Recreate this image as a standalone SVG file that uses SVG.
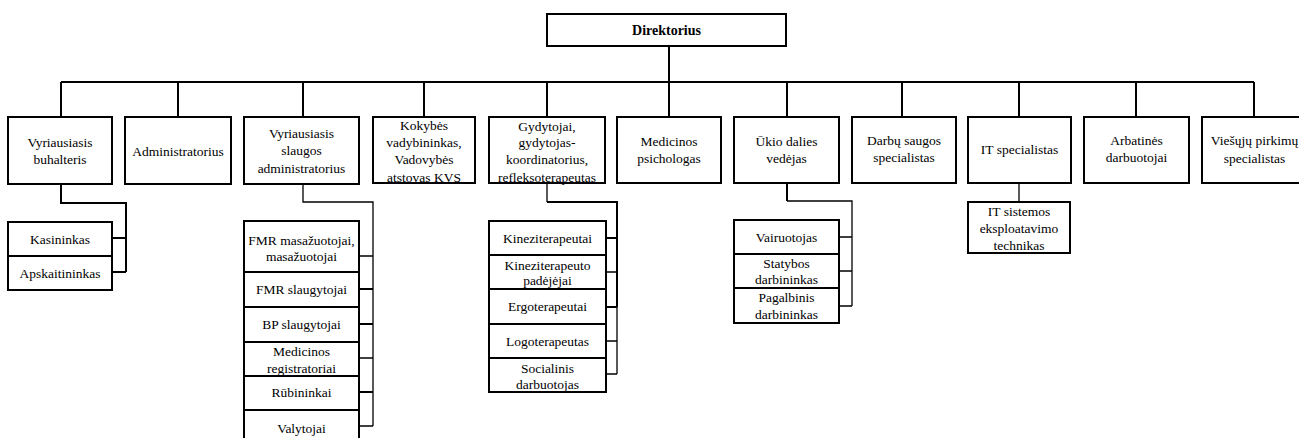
<svg xmlns="http://www.w3.org/2000/svg" width="1299" height="438" viewBox="0 0 1299 438">
<style>
.bg{fill:#fff}
.box{fill:#fff;stroke:#000;stroke-width:2}
.ln{fill:none;stroke:#000;stroke-width:2}
.tn{fill:none;stroke:#000;stroke-width:1.3}
text{font-family:"Liberation Serif","Times New Roman",serif;font-size:13.5px;fill:#000;text-anchor:middle;dominant-baseline:central}
.b{font-weight:bold;font-size:14px}
</style>
<rect class="bg" x="0" y="0" width="1299" height="438"/>
<g id="connectors">
<path class="ln" d="M669 46V82M61 82H1254"/>
<path class="ln" d="M61 82V117M178 82V117M303 82V117M424 82V117M547 82V117M669 82V117M787 82V117M902 82V117M1019 82V117M1136 82V117M1254 82V117"/>
<path class="ln" d="M61 184V203H126V272M112 238H126M112 272H126"/>
<path class="tn" d="M303 184V202H373V426M359 256H373M359 358H373M359 426H373"/>
<path class="ln" d="M359 289H373M359 324H373M359 392H373"/>
<path class="tn" d="M547 184V202M606 272H617M606 341H617M606 374H617M617 307V374"/>
<path class="ln" d="M547 202H617V307M606 238H617M606 307H617"/>
<path class="ln" d="M787 184V201"/>
<path class="tn" d="M787 201H852V306M839 237H852M839 271H852M839 306H852"/>
<path class="tn" d="M1019 184V202"/>
</g>
<g id="n-direktorius"><rect class="box" x="547" y="14" width="239" height="32"/><text class="b" x="666.5" y="30">Direktorius</text></g>
<g id="n-buhalteris"><rect class="box" x="8" y="117" width="104" height="67"/><text x="60" y="142">Vyriausiasis</text><text x="60" y="159">buhalteris</text></g>
<g id="n-administratorius"><rect class="box" x="125" y="117" width="106" height="67"/><text x="178" y="151">Administratorius</text></g>
<g id="n-slaugos"><rect class="box" x="244" y="117" width="115" height="67"/><text x="301.5" y="133">Vyriausiasis</text><text x="301.5" y="150.5">slaugos</text><text x="301.5" y="168">administratorius</text></g>
<g id="n-kokybes"><rect class="box" x="373" y="117" width="102" height="66"/><text x="424" y="125">Kokybės</text><text x="424" y="142">vadybininkas,</text><text x="424" y="159">Vadovybės</text><text x="424" y="177">atstovas KVS</text></g>
<g id="n-gydytojai"><rect class="box" x="489" y="117" width="116" height="66"/><text x="547" y="126">Gydytojai,</text><text x="547" y="142">gydytojas-</text><text x="547" y="159">koordinatorius,</text><text x="547" y="177">refleksoterapeutas</text></g>
<g id="n-psichologas"><rect class="box" x="617" y="117" width="104" height="66"/><text x="669" y="141">Medicinos</text><text x="669" y="158">psichologas</text></g>
<g id="n-ukio"><rect class="box" x="734" y="117" width="105" height="66"/><text x="786.5" y="141">Ūkio dalies</text><text x="786.5" y="158">vedėjas</text></g>
<g id="n-darbu"><rect class="box" x="852" y="117" width="104" height="66"/><text x="904" y="140">Darbų saugos</text><text x="904" y="157">specialistas</text></g>
<g id="n-it"><rect class="box" x="968" y="117" width="103" height="66"/><text x="1019.5" y="149">IT specialistas</text></g>
<g id="n-arbatines"><rect class="box" x="1084" y="117" width="105" height="66"/><text x="1136.5" y="140">Arbatinės</text><text x="1136.5" y="157">darbuotojai</text></g>
<g id="n-viesuju"><rect class="box" x="1202" y="117" width="105" height="66"/><text x="1254.5" y="140">Viešųjų pirkimų</text><text x="1254.5" y="158">specialistas</text></g>
<g id="n-kasininkas"><rect class="box" x="8" y="222" width="104" height="34"/><text x="60" y="239">Kasininkas</text></g>
<g id="n-apskaitininkas"><rect class="box" x="8" y="256" width="104" height="34"/><text x="60" y="273">Apskaitininkas</text></g>
<g id="n-fmr-mas"><rect class="box" x="244" y="221" width="115" height="51"/><text x="301.5" y="240">FMR masažuotojai,</text><text x="301.5" y="256">masažuotojai</text></g>
<g id="n-fmr-sl"><rect class="box" x="244" y="272" width="115" height="35"/><text x="301.5" y="289.5">FMR slaugytojai</text></g>
<g id="n-bp"><rect class="box" x="244" y="307" width="115" height="35"/><text x="301.5" y="324">BP slaugytojai</text></g>
<g id="n-registr"><rect class="box" x="244" y="342" width="115" height="34"/><text x="301.5" y="351">Medicinos</text><text x="301.5" y="368">registratoriai</text></g>
<g id="n-rubininkai"><rect class="box" x="244" y="376" width="115" height="34"/><text x="301.5" y="392">Rūbininkai</text></g>
<g id="n-valytojai"><rect class="box" x="244" y="410" width="115" height="40"/><text x="301.5" y="428">Valytojai</text></g>
<g id="n-kinezi"><rect class="box" x="489" y="221" width="117" height="34"/><text x="547.5" y="238">Kineziterapeutai</text></g>
<g id="n-kinezi-pad"><rect class="box" x="489" y="255" width="117" height="34"/><text x="547.5" y="265">Kineziterapeuto</text><text x="547.5" y="280">padėjėjai</text></g>
<g id="n-ergo"><rect class="box" x="489" y="289" width="117" height="35"/><text x="547.5" y="306.5">Ergoterapeutai</text></g>
<g id="n-logo"><rect class="box" x="489" y="324" width="117" height="34"/><text x="547.5" y="341">Logoterapeutas</text></g>
<g id="n-social"><rect class="box" x="489" y="358" width="117" height="34"/><text x="547.5" y="368">Socialinis</text><text x="547.5" y="384">darbuotojas</text></g>
<g id="n-vairuotojas"><rect class="box" x="734" y="220" width="105" height="34"/><text x="786.5" y="237">Vairuotojas</text></g>
<g id="n-statybos"><rect class="box" x="734" y="254" width="105" height="34"/><text x="786.5" y="263">Statybos</text><text x="786.5" y="279">darbininkas</text></g>
<g id="n-pagalbinis"><rect class="box" x="734" y="288" width="105" height="35"/><text x="786.5" y="297">Pagalbinis</text><text x="786.5" y="314">darbininkas</text></g>
<g id="n-it-sist"><rect class="box" x="968" y="202" width="102" height="51"/><text x="1019" y="211">IT sistemos</text><text x="1019" y="228">eksploatavimo</text><text x="1019" y="245">technikas</text></g>
</svg>
